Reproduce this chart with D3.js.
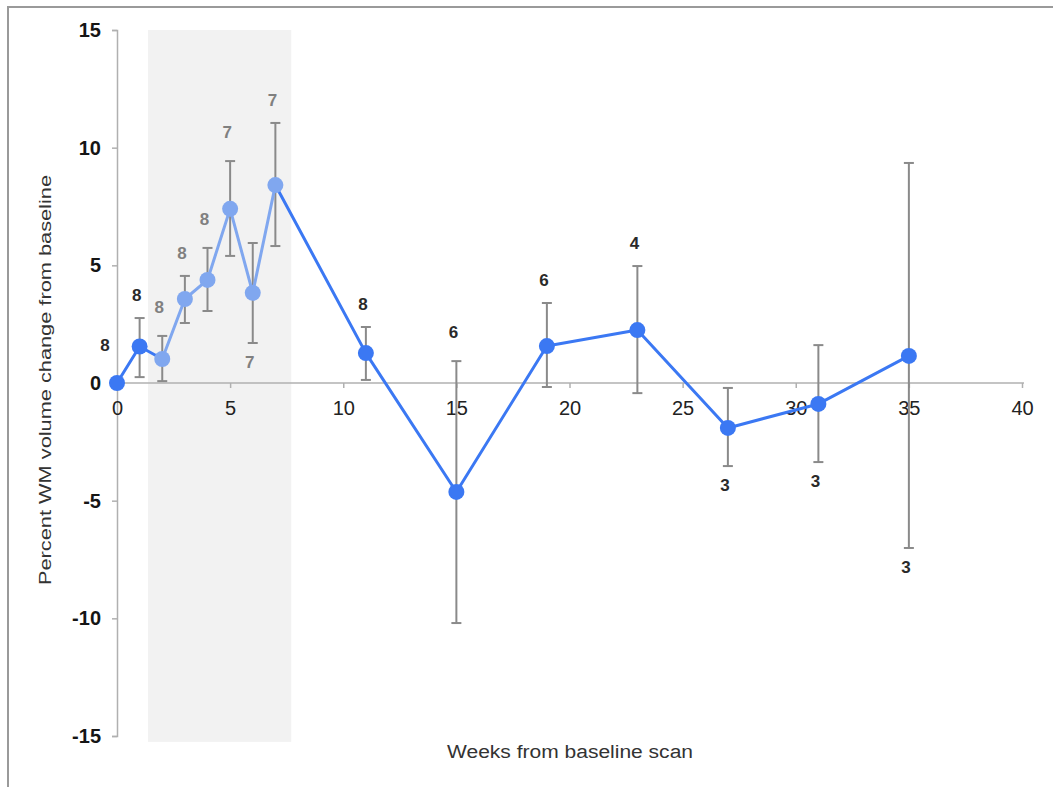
<!DOCTYPE html>
<html>
<head>
<meta charset="utf-8">
<script src="https://cdn.jsdelivr.net/npm/d3@7"></script>
<style>
	body { margin: 0; background: #fff; }
	svg { display: block; font-family: "Liberation Sans", Arial, sans-serif; }
</style>
</head>
<body>
<div class="container"></div>
<script>
const WIDTH = 1053
	, HEIGHT = 787;

// weeks from baseline, mean % change, error bar low/high, n per point
var weeks   = [0, 1, 2, 3, 4, 5, 6, 7, 11, 15, 19, 23, 27, 31, 35];
var means   = [0, 1.55, 1.02, 3.57, 4.38, 7.4, 3.83, 8.41, 1.27, -4.63, 1.57, 2.25, -1.91, -0.89, 1.15];
var errLow  = [null, 0.25, 0.08, 2.55, 3.06, 5.4, 1.7, 5.82, 0.13, -10.2, -0.17, -0.43, -3.53, -3.36, -7.01];
var errHigh = [null, 2.76, 2.0, 4.55, 5.74, 9.43, 5.95, 11.05, 2.38, 0.93, 3.4, 4.97, -0.21, 1.61, 9.35];
var counts  = ['8', '8', '8', '8', '8', '7', '7', '7', '8', '6', '6', '4', '3', '3', '3'];
var labelSide = ['left', 'above', 'aboveFar', 'above', 'aboveFar', 'aboveFar', 'below', 'above',
	'above', 'aboveFar', 'above', 'above', 'below', 'below', 'below'];
var inBand  = [false, false, true, true, true, true, true, true, false, false, false, false, false, false, false];

var xTicks = [0, 5, 10, 15, 20, 25, 30, 35, 40];
var yTicks = [-15, -10, -5, 0, 5, 10, 15];
var band = [1.37, 7.7];

var DARK = '#3b78f3', LIGHT = '#80a7ef', BAR = '#8a8a8a';

var svg = d3.select('.container').append('svg')
	.attr('width', WIDTH)
	.attr('height', HEIGHT);

// frame
svg.append('path')
	.attr('d', 'M8,787 L8,7 L1053,7')
	.attr('fill', 'none')
	.attr('stroke', '#9a9a9a')
	.attr('stroke-width', 2);

var x = d3.scaleLinear().domain([0, 40]).range([117, 1022]);
var y = d3.scaleLinear().domain([-15, 15]).range([736, 30]);

// shaded treatment window
svg.append('rect')
	.attr('x', x(band[0]))
	.attr('y', y(15))
	.attr('width', x(band[1]) - x(band[0]))
	.attr('height', y(-15.25) - y(15))
	.attr('fill', '#f2f2f2');

// y axis
var yAxis = svg.append('g')
	.attr('transform', 'translate(' + x(0) + ',0)')
	.call(d3.axisLeft(y).tickValues(yTicks).tickSize(5).tickPadding(11)
		.tickFormat(function (d) { return String(d); }));
yAxis.selectAll('text').attr('font-size', 20).attr('font-weight', 'bold').attr('fill', '#151515')
	.attr('font-family', '"Liberation Sans", Arial, sans-serif');

// x axis at zero
var xAxis = svg.append('g')
	.attr('transform', 'translate(0,' + y(0) + ')')
	.call(d3.axisBottom(x).tickValues(xTicks).tickSize(5).tickPadding(13));
xAxis.selectAll('text').attr('font-size', 20).attr('fill', '#222')
	.attr('font-family', '"Liberation Sans", Arial, sans-serif');
xAxis.select('.domain').attr('d', 'M' + x(0) + ',0H' + (x(40) + 2));

svg.selectAll('.domain, .tick line').attr('stroke', '#b0b0b0').attr('stroke-width', 1.5);

// axis titles
svg.append('text')
	.attr('transform', 'translate(51,380) rotate(-90)')
	.attr('text-anchor', 'middle')
	.attr('font-size', 17)
	.attr('fill', '#333')
	.attr('textLength', 410)
	.attr('lengthAdjust', 'spacingAndGlyphs')
	.text('Percent WM volume change from baseline');

svg.append('text')
	.attr('x', 570)
	.attr('y', 758)
	.attr('text-anchor', 'middle')
	.attr('font-size', 18)
	.attr('fill', '#333')
	.attr('textLength', 246)
	.attr('lengthAdjust', 'spacingAndGlyphs')
	.text('Weeks from baseline scan');

var pts = weeks.map(function (w, i) {
	return {w: w, m: means[i], lo: errLow[i], hi: errHigh[i], n: counts[i], side: labelSide[i], band: inBand[i]};
});

// error bars
var eb = svg.append('g').selectAll('g').data(pts.filter(function (d) { return d.lo !== null; }))
	.enter().append('g')
	.attr('stroke', BAR).attr('stroke-width', 2);
eb.append('line')
	.attr('x1', function (d) { return x(d.w); }).attr('x2', function (d) { return x(d.w); })
	.attr('y1', function (d) { return y(d.lo); }).attr('y2', function (d) { return y(d.hi); });
eb.append('line')
	.attr('x1', function (d) { return x(d.w) - 5; }).attr('x2', function (d) { return x(d.w) + 5; })
	.attr('y1', function (d) { return y(d.lo); }).attr('y2', function (d) { return y(d.lo); });
eb.append('line')
	.attr('x1', function (d) { return x(d.w) - 5; }).attr('x2', function (d) { return x(d.w) + 5; })
	.attr('y1', function (d) { return y(d.hi); }).attr('y2', function (d) { return y(d.hi); });

// line segments
var segs = d3.pairs(pts);
svg.append('g').selectAll('line').data(segs)
	.enter().append('line')
	.attr('x1', function (s) { return x(s[0].w); }).attr('y1', function (s) { return y(s[0].m); })
	.attr('x2', function (s) { return x(s[1].w); }).attr('y2', function (s) { return y(s[1].m); })
	.attr('stroke', function (s) { return s[0].band && s[1].band ? LIGHT : DARK; })
	.attr('stroke-width', 3)
	.attr('stroke-linecap', 'round');

// markers
svg.append('g').selectAll('circle').data(pts)
	.enter().append('circle')
	.attr('cx', function (d) { return x(d.w); })
	.attr('cy', function (d) { return y(d.m); })
	.attr('r', 8)
	.attr('fill', function (d) { return d.band ? LIGHT : DARK; });

// n labels
svg.append('g').selectAll('text').data(pts)
	.enter().append('text')
	.attr('text-anchor', 'middle')
	.attr('font-size', 17)
	.attr('font-weight', 'bold')
	.attr('fill', function (d) { return d.band ? '#808080' : '#2a2a2a'; })
	.attr('x', function (d) {
		if (d.side === 'left') return x(d.w) - 12;
		return x(d.w) - 3;
	})
	.attr('y', function (d) {
		if (d.side === 'left') return y(d.m) - 32;
		if (d.side === 'below') return y(d.lo) + 25;
		if (d.side === 'aboveFar') return y(d.hi) - 23;
		return y(d.hi) - 17;
	})
	.text(function (d) { return d.n; });
</script>
</body>
</html>
